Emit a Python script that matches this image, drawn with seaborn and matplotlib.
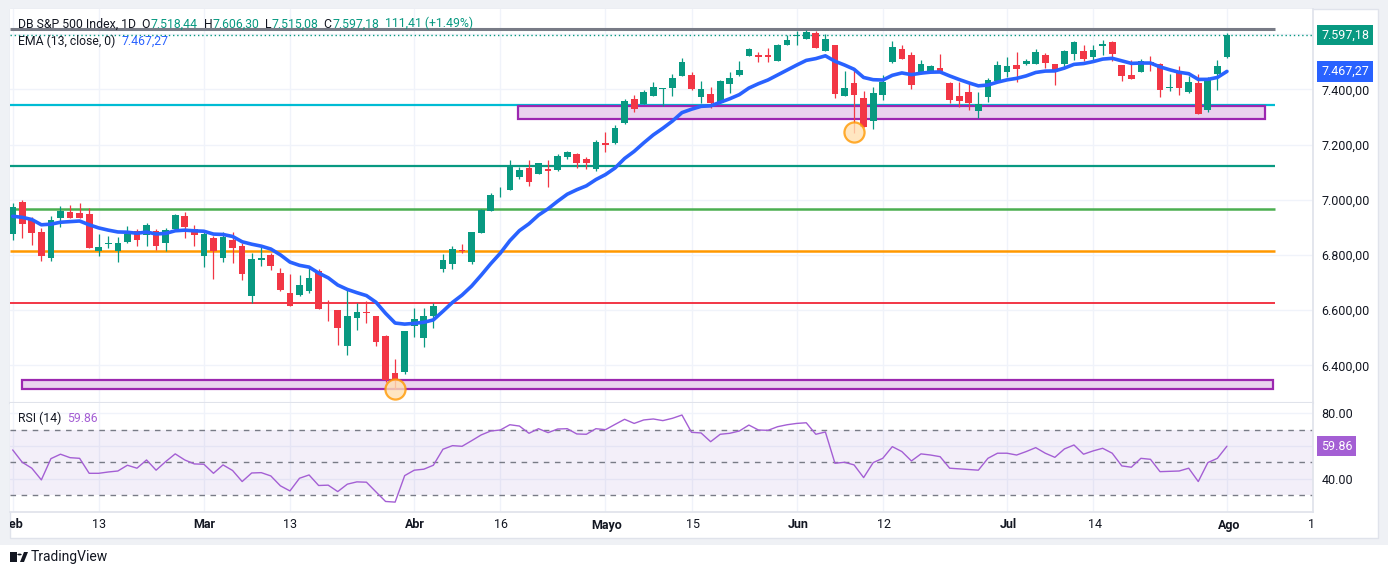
import matplotlib
matplotlib.use("Agg")
import matplotlib.pyplot as plt
import matplotlib.transforms as mtransforms
from matplotlib.patches import Rectangle, Circle, Polygon
import numpy as np
import pandas as pd
import seaborn as sns

# ---- candle data ----
opens = [6878, 6991, 6927, 6884, 6791, 6936, 6956, 6953, 6949, 6816,
         6840, 6814, 6849, 6888, 6871, 6888, 6842, 6894, 6942, 6895,
         6798, 6862, 6788, 6854, 6833, 6650, 6782, 6801, 6736, 6663,
         6656, 6668, 6743, 6617, 6602, 6469, 6570, 6593, 6580, 6505,
         6371, 6377, 6541, 6498, 6578, 6751, 6769, 6819, 6773, 6879,
         6961, 7034, 7037, 7084, 7116, 7095, 7112, 7110, 7157, 7165,
         7148, 7113, 7205, 7207, 7280, 7364, 7349, 7378, 7401, 7407,
         7450, 7451, 7374, 7383, 7352, 7421, 7454, 7522, 7524, 7524,
         7504, 7563, 7593, 7584, 7605, 7541, 7561, 7378, 7424, 7369,
         7287, 7381, 7501, 7547, 7525, 7457, 7463, 7478, 7424, 7376,
         7391, 7323, 7374, 7432, 7465, 7489, 7494, 7491, 7525, 7492,
         7494, 7530, 7539, 7519, 7559, 7572, 7489, 7452, 7465, 7500,
         7492, 7404, 7463, 7392, 7424, 7327, 7456, 7518.44]
highs = [6988, 7000, 6937, 6897, 6941, 6978, 6982, 6988, 6970, 6877,
         6869, 6865, 6906, 6896, 6915, 6896, 6898, 6949, 6956, 6910,
         6889, 6869, 6883, 6883, 6843, 6808, 6830, 6809, 6753, 6732,
         6728, 6753, 6750, 6636, 6602, 6674, 6626, 6632, 6580, 6509,
         6423, 6526, 6608, 6608, 6626, 6804, 6833, 6840, 6883, 6967,
         7024, 7048, 7145, 7120, 7145, 7133, 7145, 7166, 7177, 7169,
         7154, 7217, 7245, 7271, 7364, 7380, 7398, 7426, 7406, 7455,
         7514, 7463, 7432, 7409, 7434, 7465, 7503, 7550, 7537, 7549,
         7565, 7597, 7612, 7615, 7612, 7600, 7563, 7466, 7477, 7393,
         7409, 7452, 7576, 7561, 7536, 7508, 7490, 7529, 7427, 7427,
         7427, 7391, 7443, 7503, 7518, 7536, 7512, 7547, 7532, 7492,
         7543, 7576, 7561, 7561, 7579, 7576, 7489, 7507, 7510, 7521,
         7496, 7456, 7485, 7450, 7456, 7446, 7507, 7606.30]
lows = [6853, 6863, 6838, 6780, 6777, 6900, 6936, 6934, 6824, 6796,
        6826, 6774, 6845, 6831, 6834, 6819, 6816, 6889, 6860, 6831,
        6758, 6713, 6773, 6770, 6710, 6626, 6759, 6744, 6668, 6617,
        6650, 6662, 6605, 6560, 6473, 6436, 6529, 6553, 6469, 6340,
        6316, 6368, 6502, 6465, 6534, 6740, 6751, 6807, 6766, 6879,
        6958, 7009, 7037, 7075, 7052, 7095, 7048, 7105, 7147, 7117,
        7111, 7106, 7175, 7203, 7276, 7320, 7349, 7378, 7340, 7378,
        7450, 7399, 7352, 7334, 7352, 7386, 7450, 7522, 7501, 7501,
        7504, 7563, 7563, 7584, 7551, 7541, 7370, 7378, 7241, 7265,
        7257, 7362, 7497, 7512, 7403, 7457, 7463, 7458, 7352, 7338,
        7326, 7297, 7354, 7432, 7445, 7428, 7490, 7491, 7479, 7418,
        7483, 7508, 7504, 7508, 7526, 7504, 7432, 7439, 7465, 7468,
        7374, 7396, 7381, 7389, 7312, 7320, 7399, 7515.08]
closes = [6973, 6914, 6881, 6795, 6926, 6960, 6936, 6936, 6827, 6830,
          6842, 6844, 6877, 6856, 6910, 6834, 6891, 6945, 6903, 6874,
          6877, 6814, 6866, 6824, 6733, 6786, 6790, 6759, 6674, 6617,
          6692, 6718, 6605, 6614, 6534, 6580, 6593, 6589, 6484, 6348,
          6342, 6526, 6569, 6580, 6616, 6783, 6822, 6814, 6883, 6964,
          7018, 7036, 7123, 7107, 7063, 7133, 7106, 7159, 7172, 7135,
          7135, 7210, 7200, 7259, 7357, 7330, 7391, 7409, 7404, 7442,
          7500, 7403, 7401, 7352, 7431, 7443, 7471, 7548, 7516, 7516,
          7561, 7579, 7596, 7607, 7551, 7583, 7384, 7407, 7381, 7265,
          7387, 7427, 7554, 7512, 7416, 7492, 7484, 7468, 7363, 7358,
          7352, 7348, 7434, 7489, 7485, 7473, 7503, 7536, 7497, 7471,
          7539, 7572, 7512, 7543, 7565, 7530, 7450, 7439, 7503, 7496,
          7399, 7409, 7407, 7427, 7312, 7438, 7485, 7597.18]
ema_start = 6935  # EMA level at the left edge of the chart

rsi_vals = [57.6, 50.1, 46.5, 39.4, 52.3, 55.0, 52.9, 52.5, 43.4, 43.4,
            44.2, 44.8, 48.3, 46.5, 51.5, 45.3, 50.5, 55.2, 51.5, 49.1,
            48.9, 43.4, 48.5, 45.1, 38.4, 43.6, 43.8, 41.8, 35.8, 32.7,
            40.4, 42.4, 36.0, 36.2, 32.3, 36.8, 38.2, 38.0, 32.1, 26.3,
            25.9, 42.0, 45.3, 45.9, 48.3, 58.0, 60.2, 59.8, 63.2, 66.7,
            69.1, 69.7, 72.9, 72.1, 67.7, 70.5, 68.1, 70.3, 70.5, 67.3,
            67.1, 70.5, 69.9, 73.1, 76.2, 73.7, 75.8, 76.4, 75.4, 76.8,
            78.8, 68.3, 67.9, 62.6, 67.1, 67.7, 69.1, 72.7, 69.7, 69.5,
            71.7, 72.9, 73.7, 74.1, 67.1, 68.5, 49.5, 50.1, 48.5, 40.8,
            49.9, 52.5, 59.6, 56.6, 50.9, 55.2, 54.5, 53.5, 46.5, 46.1,
            45.7, 45.3, 52.5, 55.6, 55.6, 54.5, 56.6, 59.0, 55.6, 53.1,
            58.2, 60.6, 55.0, 57.0, 58.6, 55.6, 47.9, 47.1, 52.5, 51.9,
            44.4, 44.6, 44.8, 46.5, 38.4, 49.9, 52.5, 59.86]

tick_pos = [0, 9, 20, 29, 42, 51, 62, 71, 82, 91, 104, 113, 127, 136]
tick_labels = ["Feb", "13", "Mar", "13", "Abr", "16", "Mayo", "15",
               "Jun", "12", "Jul", "14", "Ago", "12"]
month_names = ["Feb", "Mar", "Abr", "Mayo", "Jun", "Jul", "Ago"]

price_ticks = [6400, 6600, 6800, 7000, 7200, 7400, 7600]
price_labels = ["6.400,00", "6.600,00", "6.800,00", "7.000,00", "7.200,00", "7.400,00", ""]
rsi_ticks = [40, 60, 80]
rsi_labels = ["40.00", "", "80.00"]

# drawings on the chart
level_prices = [7619, 7342, 7123, 6967, 6815, 6626]
level_colors = ["#787b86", "#00bcd4", "#089981", "#4caf50", "#ff9800", "#f23645"]
level_widths = [2.2, 1.6, 1.6, 1.8, 1.8, 1.4]
level_end = 132
zone_low = [7293, 6315]
zone_high = [7341, 6348]
zone_start = [52.9, 1.0]
zone_end = [131.0, 131.8]
circle_idx = [40, 88]
circle_price = [6316, 7247]

GREEN = "#089981"
RED = "#f23645"
BLUE = "#2962ff"
PURPLE = "#a45fd4"
DARK = "#131722"

W, H = 1388, 575


def fx(px):
    return px / W


def fy(py):
    return 1 - py / H


sns.set_theme(style="white")
plt.rcParams['font.family'] = ['Roboto', 'DejaVu Sans']

n = len(closes)
df = pd.DataFrame({"i": np.arange(n), "open": opens, "high": highs,
                   "low": lows, "close": closes, "rsi": rsi_vals})
df["ema"] = pd.Series([ema_start] + closes).ewm(span=13, adjust=False).mean().iloc[1:].values
up = df["close"] >= df["open"]
cols = np.where(up, GREEN, RED)

fig = plt.figure(figsize=(W / 100, H / 100), dpi=100)
fig.patch.set_facecolor("white")
fig.patches.append(Rectangle((0, fy(545)), 1, 1 - fy(545), transform=fig.transFigure,
                             facecolor="#eff1f5", edgecolor="none", zorder=-3))
fig.patches.append(Rectangle((fx(10), fy(538)), fx(1378) - fx(10), fy(9) - fy(538),
                             transform=fig.transFigure, facecolor="white",
                             edgecolor="#e0e3eb", lw=1, zorder=-2))

xl = (-0.28, 135.8)
ax = fig.add_axes([fx(10), fy(403), fx(1313) - fx(10), fy(9) - fy(403)])
rax = fig.add_axes([fx(10), fy(512), fx(1313) - fx(10), fy(403) - fy(512)])
sax = fig.add_axes([fx(10), fy(538), fx(1313) - fx(10), fy(512) - fy(538)])

# ---- main pane ----
for p, c, w in zip(level_prices, level_colors, level_widths):
    ax.plot([xl[0], level_end], [p, p], color=c, lw=w, zorder=2, solid_capstyle="butt")
for lo, hi, s, e in zip(zone_low, zone_high, zone_start, zone_end):
    ax.add_patch(Rectangle((s, lo), e - s, hi - lo, facecolor="#ead3ee",
                           edgecolor="#9c27b0", lw=1.6, zorder=2.2))

ax.vlines(df["i"], df["low"], df["high"], color=cols, lw=0.9, zorder=3)
body = (df["close"] - df["open"]).abs().clip(lower=3)
ax.bar(df["i"], body, bottom=np.minimum(df["open"], df["close"]), width=0.7,
       color=cols, linewidth=0, zorder=4)
sns.lineplot(x=df["i"], y=df["ema"], ax=ax, color=BLUE, lw=2.6, zorder=5)
ax.axhline(closes[-1], color=GREEN, lw=1, ls=(0, (1, 2)), zorder=2)
ax.scatter(circle_idx, circle_price, s=210, facecolor="#ffe0b2", edgecolor="#ff9800",
           lw=1.6, alpha=0.8, zorder=6)

ax.set_xlim(*xl)
ax.set_ylim(6263.6, 7691.8)
ax.set_xticks(tick_pos)
ax.set_xticklabels([])
ax.set_yticks(price_ticks)
ax.set_yticklabels(price_labels)
ax.yaxis.tick_right()
ax.tick_params(axis="both", length=0, labelsize=9, labelcolor=DARK, pad=6)
ax.grid(True, color="#f0f3fa", lw=1)
ax.set_xlabel("")
ax.set_ylabel("")
for sp in ["top", "left"]:
    ax.spines[sp].set_visible(False)
ax.spines["bottom"].set_color("#e0e3eb")
ax.spines["bottom"].set_linewidth(1.5)
ax.spines["right"].set_color("#e0e3eb")

# ---- RSI pane ----
rax.axhspan(30, 70, color="#7e57c2", alpha=0.09, lw=0)
for lv in [70, 50, 30]:
    rax.axhline(lv, color="#787b86", lw=1, ls=(0, (4, 4)))
sns.lineplot(x=df["i"], y=df["rsi"], ax=rax, color=PURPLE, lw=1)
rax.set_xlim(*xl)
rax.set_ylim(19.9, 86.1)
rax.set_xticks(tick_pos)
rax.set_xticklabels([])
rax.set_yticks(rsi_ticks)
rax.set_yticklabels(rsi_labels)
rax.yaxis.tick_right()
rax.tick_params(axis="both", length=0, labelsize=9, labelcolor=DARK, pad=6)
rax.grid(True, color="#f0f3fa", lw=1)
rax.set_xlabel("")
rax.set_ylabel("")
for sp in ["top", "left"]:
    rax.spines[sp].set_visible(False)
rax.spines["bottom"].set_color("#e0e3eb")
rax.spines["right"].set_color("#e0e3eb")

# ---- time axis labels (clipped like the original) ----
sax.set_xlim(*xl)
sax.set_ylim(0, 1)
sax.axis("off")
for p, lab in zip(tick_pos, tick_labels):
    sax.text(p, 0.5, lab, ha="center", va="center", fontsize=9, color=DARK,
             fontweight="bold" if lab in month_names else "normal", clip_on=True)

# ---- price tags ----
tx = (1321 - 10) / (1313 - 10)
bt = mtransforms.blended_transform_factory(ax.transAxes, ax.transData)
ax.text(tx, closes[-1], "7.597,18", transform=bt, ha="left", va="center", color="white",
        fontsize=9, bbox=dict(boxstyle="square,pad=0.3", fc=GREEN, ec="none"),
        clip_on=False, zorder=10)
ax.text(tx, df["ema"].iloc[-1], "7.467,27", transform=bt, ha="left", va="center",
        color="white", fontsize=9, bbox=dict(boxstyle="square,pad=0.3", fc=BLUE, ec="none"),
        clip_on=False, zorder=10)
rbt = mtransforms.blended_transform_factory(rax.transAxes, rax.transData)
rax.text(tx, rsi_vals[-1], "59.86", transform=rbt, ha="left", va="center", color="white",
         fontsize=9, bbox=dict(boxstyle="square,pad=0.3", fc=PURPLE, ec="none"),
         clip_on=False, zorder=10)


# ---- legend-style headers ----
def header(owner, pieces, px, py, size=8.8):
    prev = owner.text(fx(px), fy(py), pieces[0][0], color=pieces[0][1], fontsize=size,
                      ha="left", va="center", transform=fig.transFigure, zorder=10)
    for s, c in pieces[1:]:
        prev = owner.annotate(s, xy=(1, 0), xycoords=prev, va="bottom", ha="left",
                              color=c, fontsize=size, annotation_clip=False, zorder=10)


header(ax, [("DB S&P 500 Index, 1D  O", DARK), ("7.518,44", GREEN), ("  H", DARK),
            ("7.606,30", GREEN), ("  L", DARK), ("7.515,08", GREEN), ("  C", DARK),
            ("7.597,18", GREEN), ("  111,41 (+1.49%)", GREEN)], 18, 24)
header(ax, [("EMA (13, close, 0)  ", DARK), ("7.467,27", BLUE)], 18, 41)
header(rax, [("RSI (14)  ", DARK), ("59.86", PURPLE)], 18, 418)

# ---- TradingView logo ----
fig.patches.append(Rectangle((fx(10), fy(562)), fx(17) - fx(10), fy(552) - fy(562),
                             transform=fig.transFigure, facecolor=DARK, edgecolor="none"))
fig.patches.append(Circle((fx(19.5), fy(554.5)), 2.2 / W, transform=fig.transFigure,
                          facecolor=DARK, edgecolor="none"))
fig.patches.append(Polygon([(fx(20), fy(562)), (fx(24), fy(552)), (fx(28), fy(552)),
                            (fx(24), fy(562))], closed=True, transform=fig.transFigure,
                           facecolor=DARK, edgecolor="none"))
fig.text(fx(31), fy(557), "TradingView", fontsize=10, color=DARK, ha="left", va="center")

plt.savefig("out.png", dpi=100)
plt.close()
